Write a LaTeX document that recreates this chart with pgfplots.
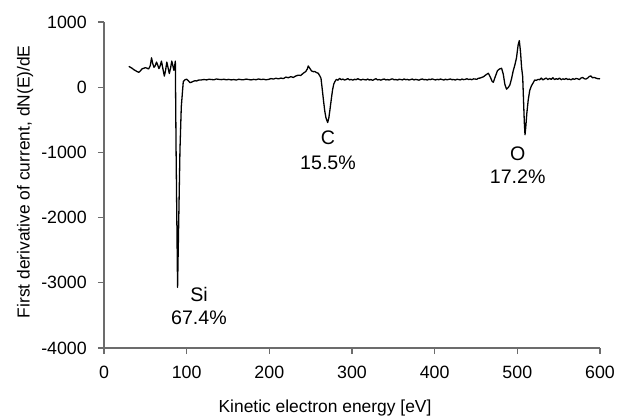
\documentclass[border=0pt]{standalone}
\usepackage{fontspec}
\setmainfont{Liberation Sans}
\usepackage{pgfplots}
\pgfplotsset{compat=1.18}
\begin{document}
\fontsize{8.7bp}{10bp}\selectfont
\begin{tikzpicture}
\useasboundingbox (-52bp,-35bp) rectangle (257bp,174bp);
\begin{axis}[
  at={(0,0)}, anchor=south west,
  scale only axis, width=248bp, height=163bp,
  xmin=0, xmax=600, ymin=-4000, ymax=1000,
  axis x line=bottom, axis y line=left,
  axis line style={-, draw=gray!85!black, line width=0.6bp},
  xtick={0,100,...,600}, ytick={-4000,-3000,...,1000},
  hide obscured x ticks=false, hide obscured y ticks=false,
  tick align=outside, major tick length=3bp,
  tick style={draw=gray!85!black, line width=0.6bp},
  /pgf/number format/assume math mode=true,
  /pgf/number format/1000 sep={},
  scaled ticks=false,
  ticklabel style={font=\fontsize{8.9bp}{10bp}\selectfont},
  xticklabel style={yshift=-3bp},
  yticklabel style={xshift=-2.5bp},
  xlabel={Kinetic electron energy [eV]},
  ylabel={First derivative of current, dN(E)/dE},
  label style={font=\fontsize{8.7bp}{10bp}\selectfont},
  xlabel style={at={(axis description cs:0.4456,-0.184)}, anchor=center},
  ylabel style={at={(axis description cs:-0.159,0.51)}, anchor=center},
  clip=false,
]
\addplot[black, line width=0.65bp, line join=round] coordinates {
(30,320)(32,305)(34,290)(36,270)(38,255)(40,240)(42,228)(44,250)(46,282)(48,290)
(50,300)(52,292)(54,280)(56,330)(57.5,450)(59,360)(60.5,305)(62,330)(63.5,385)(65,340)
(66.5,285)(68,330)(69.5,400)(71,300)(73,170)(74.5,260)(76,385)(77.5,300)(79,210)(80.5,290)
(82,400)(83.5,320)(84.5,260)(85.5,330)(86.3,400)(87.2,-960)(89,-3070)(91.9,-960)(93.5,-300)(95.9,86)
(98,115)(100,122)(102,100)(104,70)(106,78)(108,90)(110,100)(112,95)(114,108)(116,110)
(118,112)(121,118)(124,112)(127,122)(130,118)(133,114)(136,126)(139,120)(142,116)(145,122)
(148,114)(151,120)(154,112)(157,118)(160,110)(163,122)(166,116)(169,115)(172,124)(175,118)
(178,112)(181,120)(184,115)(187,126)(190,118)(193,122)(196,114)(199,120)(202,132)(205,125)
(208,138)(211,128)(214,140)(217,132)(220,155)(223,145)(226,162)(229,150)(232,172)(235,185)
(238,180)(241,214)(244,240)(246,280)(247.1,326)(249,290)(251,250)(253.2,239)(255,240)(257,225)
(259.2,214)(261,175)(262.5,138)(264,-30)(265.5,-200)(267,-360)(268.5,-470)(270.6,-542)(272,-470)(273.5,-330)
(275,-180)(276.5,-40)(278,50)(279.3,86)(281,118)(283,108)(285,135)(287,115)(289,125)(291,110)
(293,118)(295,132)(297,112)(299,120)(301,108)(303,122)(305,115)(307,130)(309,118)(311,110)
(313,122)(315,116)(317,112)(319,125)(321,110)(323,118)(325,105)(327,120)(329,130)(331,112)
(333,118)(335,108)(337,120)(339,125)(341,112)(343,118)(345,110)(347,122)(349,128)(351,114)
(353,118)(355,110)(357,122)(359,118)(361,112)(363,126)(365,115)(367,120)(369,110)(371,118)
(373,125)(375,112)(377,120)(379,115)(381,108)(383,120)(385,126)(387,115)(389,118)(391,110)
(393,122)(395,116)(397,128)(399,118)(401,112)(403,120)(405,115)(407,125)(409,118)(411,110)
(413,122)(415,114)(417,120)(419,126)(421,115)(423,118)(425,110)(427,122)(429,118)(431,112)
(433,125)(435,116)(437,120)(439,130)(441,118)(443,124)(445,115)(447,128)(449,125)(451,122)
(453,138)(455,140)(459,160)(462,190)(465,214)(467.5,150)(469.5,90)(471,75)(473,150)(476,254)
(478.5,280)(481,290)(483,200)(485,40)(487,-30)(489,-5)(491,35)(493,130)(495,250)(497,340)
(499,450)(501,650)(502.4,715)(503.8,550)(505.2,300)(506.5,160)(507.5,-200)(508.5,-550)(509.3,-730)(510.3,-600)
(511.5,-400)(513.2,-194)(515,-50)(517,20)(519.3,70)(521,110)(523,105)(525,120)(527,115)(529,140)
(531,112)(533,128)(535,140)(537,118)(539,135)(541,120)(543,145)(545,118)(547,130)(549,122)
(551,140)(553,115)(555,128)(557,120)(559,135)(561,118)(563,125)(565,112)(567,130)(569,120)
(571,135)(573,128)(575,118)(577,140)(579,150)(581,130)(583,125)(585,140)(587,165)(589,172)
(591,145)(593,150)(595,140)(597,132)(599,130)(600,128)
};
\node[font=\fontsize{9.8bp}{11bp}\selectfont, inner sep=0pt] at (axis cs:114.9,-3180) {Si};
\node[font=\fontsize{9.8bp}{11bp}\selectfont, inner sep=0pt] at (axis cs:114.9,-3532) {67.4\%};
\node[font=\fontsize{9.8bp}{11bp}\selectfont, inner sep=0pt] at (axis cs:271,-781) {C};
\node[font=\fontsize{9.8bp}{11bp}\selectfont, inner sep=0pt] at (axis cs:271,-1154) {15.5\%};
\node[font=\fontsize{9.8bp}{11bp}\selectfont, inner sep=0pt] at (axis cs:500.4,-1026) {O};
\node[font=\fontsize{9.8bp}{11bp}\selectfont, inner sep=0pt] at (axis cs:500.4,-1373) {17.2\%};
\end{axis}
\end{tikzpicture}
\end{document}
